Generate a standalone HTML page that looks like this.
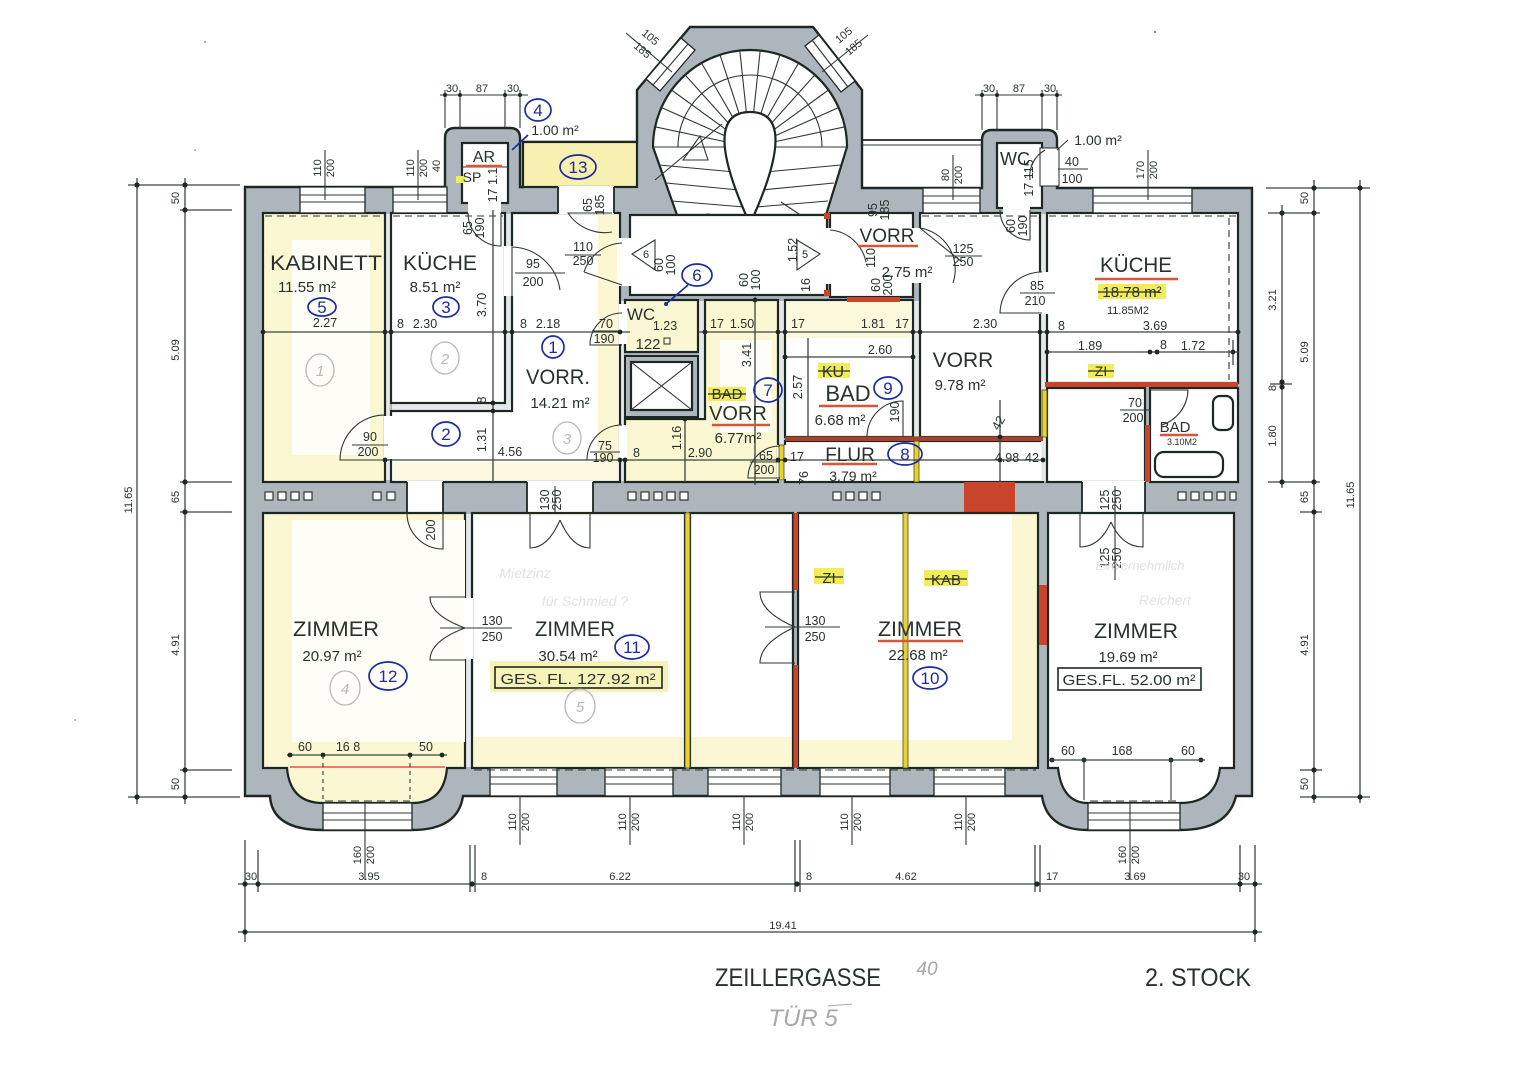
<!DOCTYPE html>
<html><head><meta charset="utf-8"><title>Zeillergasse 2. Stock</title>
<style>
html,body{margin:0;padding:0;background:#fff;width:1528px;height:1080px;overflow:hidden}
svg{display:block}
text{font-family:"Liberation Sans",sans-serif;fill:#28322d}
.s{font-size:11px}
.s2{font-size:12.5px}
.m{font-size:15px}
.r{font-size:21px}
.ln{stroke:#1e2823;stroke-width:1.8;fill:none}
.tn{stroke:#2e3833;stroke-width:1.1;fill:none}
.dm{stroke:#3a4440;stroke-width:1.3;fill:none}
.rm{fill:#fff;stroke:#1e2823;stroke-width:2.2}
.ry{fill:#fbf7d2;stroke:#1e2823;stroke-width:2.2}
.pt{fill:#e4e8ea}
.bl{stroke:#1c2c9e;stroke-width:1.7;fill:none}
.bt{fill:#1c2c9e;font-size:17px}
.gc{stroke:#b8b8b8;stroke-width:1.3;fill:none}
.gt{fill:#b8b8b8;font-size:15px;font-style:italic}
.pn{fill:#e2e2e2;font-style:italic}
.hw{fill:#a8a8a8;font-style:italic}
.win{fill:#fff;stroke:#1e2823;stroke-width:1.3}
.dot{fill:#1e2823}
.red{fill:#c8452c}
.yel{fill:#e7d230;stroke:#4a4a2a;stroke-width:0.8}
.hl{fill:#f3ec5a}
.ul{stroke:#d9553a;stroke-width:2.5;fill:none}
</style></head><body>
<svg width="1528" height="1080" viewBox="0 0 1528 1080" xmlns="http://www.w3.org/2000/svg">
<rect x="0" y="0" width="1528" height="1080" fill="#fff"/>

<!-- building silhouette (walls) -->
<path d="M245,187 L445,187 L445,138 Q445,128 455,128 L510,128 Q520,128 520,138 L520,187 L523,187 L523,142 L637,142 L637,90 L690,27 L813,27 L862,90 L862,188 L982,188 L982,140 Q982,130 992,130 L1047,130 Q1057,130 1057,140 L1057,188 L1252,188 L1252,796 L1236,796 Q1228,830 1180,830 L1088,830 Q1047,830 1042,796 L463,796 Q458,830 412,830 L323,830 Q272,830 270,796 L245,796 Z" fill="#adb6bd" stroke="#1e2823" stroke-width="2.4"/>

<!-- roof line right of stair -->
<line x1="862" y1="140" x2="982" y2="140" class="ln"/>
<line x1="862" y1="145" x2="982" y2="145" class="tn"/>

<!-- staircase inner -->
<path d="M677,215 L653,147 A97,97 0 0 1 847,147 L826,215 Z" class="rm"/>
<g class="tn" stroke-width="1.3">
<line x1="774" y1="147" x2="847" y2="147"/><line x1="773.5" y1="142" x2="844.9" y2="126.8"/><line x1="771.9" y1="137.2" x2="838.7" y2="107.5"/><line x1="769.4" y1="132.9" x2="828.5" y2="90"/><line x1="766.1" y1="129.2" x2="814.9" y2="74.9"/><line x1="762" y1="126.2" x2="798.5" y2="63"/><line x1="757.4" y1="124.2" x2="780" y2="54.8"/><line x1="752.5" y1="123.1" x2="760.2" y2="50.5"/><line x1="747.5" y1="123.1" x2="739.8" y2="50.5"/><line x1="742.6" y1="124.2" x2="720" y2="54.8"/><line x1="738" y1="126.2" x2="701.5" y2="63"/><line x1="733.9" y1="129.2" x2="685.1" y2="74.9"/><line x1="730.6" y1="132.9" x2="671.5" y2="90"/><line x1="728.1" y1="137.2" x2="661.3" y2="107.5"/><line x1="726.5" y1="142" x2="655.1" y2="126.8"/><line x1="726" y1="147" x2="653" y2="147"/>
<line x1="659" y1="165" x2="735" y2="172"/><line x1="666" y1="183" x2="739" y2="190"/><line x1="672" y1="201" x2="744" y2="207"/>
<line x1="841" y1="165" x2="765" y2="172"/><line x1="834" y1="183" x2="761" y2="190"/><line x1="828" y1="201" x2="756" y2="207"/>
<path d="M678,147 A72,72 0 0 1 822,147"/>
</g>
<path d="M750,112 C784,112 784,150 750,224 C716,150 716,112 750,112 Z" class="rm" stroke-width="1.8"/>
<line x1="655" y1="180" x2="722" y2="124" class="tn"/>
<path d="M683,160 L700,136 L708,160 Z" class="tn"/>
<circle cx="708" cy="220" r="6" class="tn"/><line x1="702" y1="220" x2="714" y2="220" class="tn"/><line x1="708" y1="214" x2="708" y2="226" class="tn"/>
<path d="M781,202 L808,220 L781,220" class="tn"/>
<!-- chamfer windows -->
<polygon points="646,79 681,38 695,50 660,91" class="win"/><line x1="653" y1="85" x2="688" y2="44" class="tn"/>
<polygon points="819,35 855,81 841,92 805,46" class="win"/><line x1="812" y1="40" x2="848" y2="87" class="tn"/>
<line x1="626" y1="33" x2="672" y2="72" class="tn"/><text class="s" transform="rotate(40 648 40)" x="648" y="40" text-anchor="middle">105</text><text class="s" transform="rotate(40 640 53)" x="640" y="53" text-anchor="middle">185</text>
<line x1="868" y1="35" x2="822" y2="72" class="tn"/><text class="s" transform="rotate(-40 846 38)" x="846" y="38" text-anchor="middle">105</text><text class="s" transform="rotate(-40 856 50)" x="856" y="50" text-anchor="middle">185</text>

<!-- yellow tints -->
<rect x="523" y="142" width="114" height="45" fill="#f8f0b0" stroke="#1e2823" stroke-width="2.2"/>

<!-- rooms top -->
<rect x="263" y="213" width="122" height="269" class="ry"/>
<rect x="292" y="240" width="78" height="215" fill="#fffef6"/>
<rect x="391" y="213" width="114" height="190" class="rm"/>
<path d="M391,411 L512,411 L512,213 L620,213 L620,482 L391,482 Z" class="rm"/>
<rect x="598" y="215" width="20" height="265" fill="#fbf7d2"/>
<rect x="393" y="462" width="225" height="18" fill="#fcf9e0"/>
<rect x="630" y="215" width="197" height="80" class="rm"/>
<rect x="830" y="213" width="83" height="84" class="rm"/>
<rect x="625" y="300" width="73" height="52" class="ry"/>
<rect x="625" y="356" width="73" height="61" fill="#adb6bd" stroke="#1e2823" stroke-width="2"/>
<rect x="631" y="362" width="61" height="48" class="rm"/>
<line x1="631" y1="362" x2="692" y2="410" class="tn"/><line x1="692" y1="362" x2="631" y2="410" class="tn"/>
<path d="M705,300 L778,300 L778,482 L625,482 L625,419 L705,419 Z" class="ry"/>
<rect x="720" y="340" width="52" height="92" fill="#fffef6"/>
<rect x="785" y="300" width="128" height="137" class="rm"/>
<rect x="787" y="302" width="124" height="36" fill="#fcf8dc"/>
<rect x="785" y="441" width="258" height="41" class="rm"/>
<rect x="920" y="213" width="120" height="224" class="rm"/>
<rect x="1047" y="213" width="191" height="170" class="rm"/>
<rect x="1047" y="388" width="98" height="94" class="rm"/>
<rect x="1150" y="388" width="88" height="94" class="rm"/>
<rect x="462" y="143" width="46" height="60" class="rm"/>
<line x1="462" y1="167" x2="508" y2="167" class="tn"/>
<rect x="997" y="143" width="45" height="65" class="rm"/>

<!-- partitions (light) -->
<rect x="386.2" y="214" width="3.6" height="266" class="pt"/>
<rect x="392" y="404.2" width="119" height="5.6" class="pt"/>
<rect x="506.2" y="214" width="4.6" height="196" class="pt"/>
<rect x="621.2" y="301" width="2.6" height="180" class="pt"/>
<rect x="699.2" y="301" width="4.6" height="117" class="pt"/>
<rect x="779.2" y="301" width="4.6" height="180" class="pt"/>
<rect x="914.2" y="301" width="4.6" height="135" class="pt"/>
<rect x="1041.2" y="214" width="4.6" height="267" class="pt"/>
<!-- door openings -->
<rect x="384" y="416" width="9" height="43" fill="#fff"/>
<rect x="504" y="246" width="10" height="50" fill="#fff"/>
<rect x="617" y="238" width="15" height="48" fill="#fff"/>
<rect x="619" y="304" width="8" height="40" fill="#fff"/>
<rect x="619" y="425" width="8" height="36" fill="#fff"/>
<rect x="777" y="445" width="10" height="34" fill="#fff"/>
<rect x="825" y="228" width="7" height="56" fill="#fff"/>
<rect x="911" y="228" width="11" height="55" fill="#fff"/>
<rect x="1039" y="272" width="10" height="42" fill="#fff"/>
<rect x="1003" y="206" width="27" height="9" fill="#fff"/>
<rect x="468" y="201" width="33" height="14" fill="#fff"/>
<rect x="1040" y="148" width="19" height="38" fill="#fff" stroke="#1e2823" stroke-width="1"/>
<rect x="558" y="186" width="56" height="28" fill="#fff"/>
<line x1="558" y1="187" x2="558" y2="213" class="ln"/><line x1="614" y1="187" x2="614" y2="213" class="ln"/>

<!-- top windows -->
<rect x="300" y="187" width="65" height="26" class="win"/><line x1="300" y1="195" x2="365" y2="195" class="tn"/><line x1="300" y1="202" x2="365" y2="202" class="tn"/>
<rect x="393" y="187" width="54" height="26" class="win"/><line x1="393" y1="195" x2="447" y2="195" class="tn"/><line x1="393" y1="202" x2="447" y2="202" class="tn"/>
<rect x="923" y="188" width="57" height="25" class="win"/><line x1="923" y1="196" x2="980" y2="196" class="tn"/><line x1="923" y1="203" x2="980" y2="203" class="tn"/>
<rect x="1093" y="188" width="99" height="25" class="win"/><line x1="1093" y1="196" x2="1192" y2="196" class="tn"/><line x1="1093" y1="203" x2="1192" y2="203" class="tn"/>
<line x1="265" y1="216" x2="383" y2="216" class="tn" stroke-dasharray="7,5"/>
<line x1="393" y1="216" x2="503" y2="216" class="tn" stroke-dasharray="7,5"/>
<line x1="922" y1="216" x2="1038" y2="216" class="tn" stroke-dasharray="7,5"/>
<line x1="1049" y1="216" x2="1236" y2="216" class="tn" stroke-dasharray="7,5"/>
<line x1="1229" y1="218" x2="1229" y2="380" class="tn" stroke-dasharray="7,5"/>

<!-- corridor wall features -->
<rect x="407" y="481" width="36" height="33" fill="#fff"/><line x1="407" y1="482" x2="407" y2="513" class="ln"/><line x1="443" y1="482" x2="443" y2="513" class="ln"/>
<rect x="527" y="481" width="66" height="33" fill="#fff"/><line x1="527" y1="482" x2="527" y2="513" class="ln"/><line x1="593" y1="482" x2="593" y2="513" class="ln"/>
<rect x="1082" y="481" width="63" height="33" fill="#fff"/><line x1="1082" y1="482" x2="1082" y2="513" class="ln"/><line x1="1145" y1="482" x2="1145" y2="513" class="ln"/>
<rect x="964" y="482" width="51" height="31" class="red"/>
<g fill="#fff" stroke="#1e2823" stroke-width="1.1">
<rect x="265" y="492" width="8" height="8"/><rect x="278" y="492" width="8" height="8"/><rect x="291" y="492" width="8" height="8"/><rect x="304" y="492" width="8" height="8"/><rect x="373" y="492" width="8" height="8"/><rect x="387" y="492" width="8" height="8"/>
<rect x="628" y="492" width="8" height="8"/><rect x="641" y="492" width="8" height="8"/><rect x="654" y="492" width="8" height="8"/><rect x="667" y="492" width="8" height="8"/><rect x="680" y="492" width="8" height="8"/>
<rect x="833" y="492" width="8" height="8"/><rect x="846" y="492" width="8" height="8"/><rect x="859" y="492" width="8" height="8"/><rect x="872" y="492" width="8" height="8"/>
<rect x="1178" y="492" width="8" height="8"/><rect x="1191" y="492" width="8" height="8"/><rect x="1204" y="492" width="8" height="8"/><rect x="1217" y="492" width="8" height="8"/><rect x="1230" y="492" width="6" height="8"/>
</g>

<!-- bottom rooms -->
<path d="M263,513 L465,513 L465,768 L447,768 Q444,803 412,803 L323,803 Q290,803 287,768 L263,768 Z" class="ry"/>
<rect x="292" y="520" width="173" height="222" fill="#fffef6"/>
<rect x="472" y="513" width="213" height="255" class="ry"/>
<rect x="474" y="515" width="209" height="222" fill="#fff"/>
<rect x="690" y="513" width="103" height="255" class="ry"/>
<rect x="692" y="515" width="99" height="222" fill="#fff"/>
<rect x="798" y="513" width="240" height="255" class="ry"/>
<rect x="800" y="515" width="212" height="225" fill="#fff"/>
<path d="M1048,513 L1234,513 L1234,768 L1220,768 Q1216,803 1180,803 L1088,803 Q1062,803 1058,768 L1048,768 Z" class="rm"/>
<rect x="466.2" y="514" width="4.6" height="253" class="pt"/>
<rect x="464" y="598" width="9" height="61" fill="#fff"/>
<rect x="685" y="513" width="5" height="255" class="yel"/>
<rect x="903" y="513" width="5" height="255" class="yel"/>
<rect x="793.5" y="513" width="4.5" height="77" class="red"/>
<rect x="793.5" y="665" width="4.5" height="103" class="red"/>
<rect x="1039" y="585" width="8" height="60" class="red"/>
<line x1="290" y1="767" x2="445" y2="767" stroke="#d33" stroke-width="1.2"/>

<!-- bottom windows -->
<g>
<rect x="490" y="768" width="67" height="28" class="win"/><rect x="605" y="768" width="68" height="28" class="win"/><rect x="708" y="768" width="73" height="28" class="win"/><rect x="820" y="768" width="70" height="28" class="win"/><rect x="934" y="768" width="71" height="28" class="win"/>
<rect x="323" y="803" width="89" height="27" class="win"/><rect x="1088" y="803" width="92" height="27" class="win"/>
</g>
<g class="tn">
<line x1="490" y1="777" x2="557" y2="777"/><line x1="490" y1="784" x2="557" y2="784"/><line x1="605" y1="777" x2="673" y2="777"/><line x1="605" y1="784" x2="673" y2="784"/><line x1="708" y1="777" x2="781" y2="777"/><line x1="708" y1="784" x2="781" y2="784"/><line x1="820" y1="777" x2="890" y2="777"/><line x1="820" y1="784" x2="890" y2="784"/><line x1="934" y1="777" x2="1005" y2="777"/><line x1="934" y1="784" x2="1005" y2="784"/>
<line x1="323" y1="813" x2="412" y2="813"/><line x1="323" y1="820" x2="412" y2="820"/><line x1="1088" y1="813" x2="1180" y2="813"/><line x1="1088" y1="820" x2="1180" y2="820"/>
</g>
<line x1="474" y1="770" x2="1036" y2="770" class="tn" stroke-dasharray="8,5"/>
<line x1="325" y1="801" x2="410" y2="801" class="tn" stroke-dasharray="8,5"/>
<line x1="1090" y1="801" x2="1178" y2="801" class="tn" stroke-dasharray="8,5"/>

<!-- red / yellow highlights top -->
<rect x="785" y="436.5" width="258" height="4.5" fill="#a8412c"/>
<rect x="1045" y="382" width="193" height="5" class="red"/>
<rect x="1145" y="425" width="5" height="57" class="red"/>
<rect x="847" y="297" width="53" height="5" class="red"/>
<rect x="824" y="213" width="6" height="6" class="red"/><rect x="824" y="290" width="6" height="6" class="red"/>
<rect x="1042" y="390" width="5" height="47" class="yel"/>
<rect x="779" y="445" width="5" height="35" class="yel"/>
<rect x="914" y="441" width="5" height="41" class="yel"/>
<rect x="456" y="176" width="9" height="7" class="hl"/>

<!-- fixtures -->
<rect x="1155" y="452" width="68" height="25" rx="9" class="rm" stroke-width="1.3"/>
<rect x="1213" y="396" width="20" height="34" rx="7" class="rm" stroke-width="1.3"/>

<!-- doors -->
<g class="tn" stroke-width="1.2">
<path d="M385,460 L340,460 A45,45 0 0 1 385,415"/>
<path d="M512,297 L512,247 A50,50 0 0 1 560,290"/>
<path d="M622,285 L584,272 M622,243 A42,42 0 0 0 584,272"/>
<path d="M612,213 L568,213 A44,44 0 0 0 612,232"/>
<path d="M468,213 A33,33 0 0 0 501,246 L501,213"/>
<path d="M622,345 L590,345 A32,32 0 0 1 622,313"/>
<path d="M622,460 L587,460 A35,35 0 0 1 622,425"/>
<path d="M780,478 L748,478 A32,32 0 0 1 780,446"/>
<path d="M867,437 A36,36 0 0 1 903,401 L903,437"/>
<path d="M920,228 L962,262 M920,228 A42,42 0 0 1 953,283"/>
<path d="M830,230 A40,40 0 0 1 866,262"/>
<path d="M1042,272 A42,42 0 0 0 1000,313 L1042,313"/>
<path d="M1000,210 A30,30 0 0 0 1030,240 L1030,210"/>
<path d="M1150,390 L1188,390 A38,38 0 0 1 1162,425"/>
<path d="M1045,150 A30,30 0 0 0 1030,180"/>
<path d="M407,513 A36,36 0 0 0 443,549 L443,513"/>
<path d="M530,513 L530,548 Q548,548 560,520 M590,513 L590,548 Q572,548 560,520"/>
<path d="M465,597 L430,597 Q430,615 465,628 M465,660 L430,660 Q430,641 465,628"/>
<path d="M795,592 L760,592 Q760,612 795,627 M795,663 L760,663 Q760,643 795,627"/>
<path d="M1080,513 L1080,547 Q1100,547 1111,522 M1143,513 L1143,547 Q1122,547 1111,522"/>
</g>
<!-- landing triangles -->
<path d="M632,254 L655,240 L655,270 Z" class="tn"/><text class="s" x="646" y="258" text-anchor="middle">6</text>
<path d="M820,254 L797,240 L797,270 Z" class="tn"/><text class="s" x="805" y="258" text-anchor="middle">5</text>

<!-- interior dimension lines -->
<g class="dm">
<line x1="263" y1="332" x2="630" y2="332"/><line x1="698" y1="332" x2="1240" y2="332"/>
<line x1="785" y1="357" x2="913" y2="357"/><line x1="1047" y1="352" x2="1238" y2="352"/>
<line x1="385" y1="460" x2="1043" y2="460"/>
<line x1="493" y1="210" x2="493" y2="482"/>
<line x1="685" y1="417" x2="685" y2="482"/>
<line x1="755" y1="297" x2="755" y2="485"/>
<line x1="808" y1="338" x2="808" y2="437"/>
<line x1="1000" y1="400" x2="1000" y2="482"/>
<line x1="1233" y1="340" x2="1233" y2="365"/>
</g>
<g class="dot">
<circle cx="263" cy="332" r="2.4"/><circle cx="385" cy="332" r="2.4"/><circle cx="391" cy="332" r="2.4"/><circle cx="505" cy="332" r="2.4"/><circle cx="512" cy="332" r="2.4"/><circle cx="620" cy="332" r="2.4"/><circle cx="705" cy="332" r="2.4"/><circle cx="778" cy="332" r="2.4"/><circle cx="785" cy="332" r="2.4"/><circle cx="913" cy="332" r="2.4"/><circle cx="920" cy="332" r="2.4"/><circle cx="1040" cy="332" r="2.4"/><circle cx="1047" cy="332" r="2.4"/><circle cx="1238" cy="332" r="2.4"/>
<circle cx="785" cy="357" r="2.4"/><circle cx="913" cy="357" r="2.4"/><circle cx="1047" cy="352" r="2.4"/><circle cx="1150" cy="352" r="2.4"/><circle cx="1157" cy="352" r="2.4"/><circle cx="1233" cy="352" r="2.4"/>
<circle cx="385" cy="460" r="2.4"/><circle cx="620" cy="460" r="2.4"/><circle cx="625" cy="460" r="2.4"/><circle cx="778" cy="460" r="2.4"/><circle cx="785" cy="460" r="2.4"/><circle cx="1000" cy="460" r="2.4"/><circle cx="1043" cy="460" r="2.4"/>
<circle cx="493" cy="403" r="2.4"/><circle cx="493" cy="411" r="2.4"/><circle cx="755" cy="300" r="2.4"/><circle cx="685" cy="419" r="2.4"/><circle cx="1000" cy="437" r="2.4"/>
</g>

<!-- bay dims -->
<line x1="287" y1="755" x2="447" y2="755" class="dm"/>
<g class="dot"><circle cx="290" cy="755" r="2.4"/><circle cx="323" cy="755" r="2.4"/><circle cx="410" cy="755" r="2.4"/><circle cx="442" cy="755" r="2.4"/>
<circle cx="1052" cy="760" r="2.4"/><circle cx="1084" cy="760" r="2.4"/><circle cx="1171" cy="760" r="2.4"/><circle cx="1201" cy="760" r="2.4"/></g>
<line x1="1049" y1="760" x2="1205" y2="760" class="dm"/>
<line x1="323" y1="755" x2="323" y2="800" class="tn" stroke-dasharray="4,4"/><line x1="410" y1="755" x2="410" y2="800" class="tn" stroke-dasharray="4,4"/>
<line x1="1084" y1="760" x2="1084" y2="800" class="tn"/><line x1="1171" y1="760" x2="1171" y2="800" class="tn"/>

<!-- outer dimension lines left -->
<g class="dm">
<line x1="137" y1="178" x2="137" y2="804"/><line x1="185" y1="178" x2="185" y2="804"/>
<line x1="128" y1="185" x2="240" y2="185"/><line x1="180" y1="210" x2="232" y2="210"/><line x1="180" y1="482" x2="232" y2="482"/><line x1="180" y1="512" x2="232" y2="512"/><line x1="180" y1="770" x2="232" y2="770"/><line x1="128" y1="797" x2="240" y2="797"/>
</g>
<g class="dot"><circle cx="137" cy="185" r="2.6"/><circle cx="137" cy="797" r="2.6"/><circle cx="185" cy="185" r="2.6"/><circle cx="185" cy="210" r="2.6"/><circle cx="185" cy="482" r="2.6"/><circle cx="185" cy="512" r="2.6"/><circle cx="185" cy="770" r="2.6"/><circle cx="185" cy="797" r="2.6"/></g>
<g class="s">
<text transform="rotate(-90 179 198)" x="179" y="198" text-anchor="middle">50</text>
<text transform="rotate(-90 179 350)" x="179" y="350" text-anchor="middle">5.09</text>
<text transform="rotate(-90 179 497)" x="179" y="497" text-anchor="middle">65</text>
<text transform="rotate(-90 179 645)" x="179" y="645" text-anchor="middle">4.91</text>
<text transform="rotate(-90 179 784)" x="179" y="784" text-anchor="middle">50</text>
<text transform="rotate(-90 132 500)" x="132" y="500" text-anchor="middle">11.65</text>
</g>

<!-- outer dims right -->
<g class="dm">
<line x1="1282" y1="205" x2="1282" y2="488"/><line x1="1314" y1="180" x2="1314" y2="803"/><line x1="1360" y1="180" x2="1360" y2="803"/>
<line x1="1266" y1="188" x2="1370" y2="188"/><line x1="1268" y1="213" x2="1320" y2="213"/><line x1="1270" y1="384" x2="1292" y2="384"/><line x1="1268" y1="482" x2="1320" y2="482"/><line x1="1300" y1="512" x2="1322" y2="512"/><line x1="1300" y1="770" x2="1322" y2="770"/><line x1="1300" y1="797" x2="1370" y2="797"/>
</g>
<g class="dot"><circle cx="1282" cy="213" r="2.6"/><circle cx="1282" cy="382" r="2.6"/><circle cx="1282" cy="387" r="2.6"/><circle cx="1282" cy="482" r="2.6"/>
<circle cx="1314" cy="188" r="2.6"/><circle cx="1314" cy="213" r="2.6"/><circle cx="1314" cy="482" r="2.6"/><circle cx="1314" cy="512" r="2.6"/><circle cx="1314" cy="770" r="2.6"/><circle cx="1314" cy="797" r="2.6"/><circle cx="1360" cy="188" r="2.6"/><circle cx="1360" cy="797" r="2.6"/></g>
<g class="s">
<text transform="rotate(-90 1276 300)" x="1276" y="300" text-anchor="middle">3.21</text>
<text transform="rotate(-90 1276 388)" x="1276" y="388" text-anchor="middle">8</text>
<text transform="rotate(-90 1276 436)" x="1276" y="436" text-anchor="middle">1.80</text>
<text transform="rotate(-90 1308 198)" x="1308" y="198" text-anchor="middle">50</text>
<text transform="rotate(-90 1308 352)" x="1308" y="352" text-anchor="middle">5.09</text>
<text transform="rotate(-90 1308 497)" x="1308" y="497" text-anchor="middle">65</text>
<text transform="rotate(-90 1308 645)" x="1308" y="645" text-anchor="middle">4.91</text>
<text transform="rotate(-90 1308 784)" x="1308" y="784" text-anchor="middle">50</text>
<text transform="rotate(-90 1354 495)" x="1354" y="495" text-anchor="middle">11.65</text>
</g>

<!-- bottom dims -->
<g class="dm">
<line x1="238" y1="884" x2="1262" y2="884"/><line x1="238" y1="932" x2="1262" y2="932"/>
<line x1="245" y1="840" x2="245" y2="942"/><line x1="258" y1="850" x2="258" y2="892"/><line x1="470" y1="845" x2="470" y2="892"/><line x1="475" y1="845" x2="475" y2="892"/>
<line x1="795" y1="840" x2="795" y2="892"/><line x1="800" y1="840" x2="800" y2="892"/><line x1="1035" y1="845" x2="1035" y2="892"/><line x1="1040" y1="845" x2="1040" y2="892"/><line x1="1240" y1="845" x2="1240" y2="892"/><line x1="1255" y1="845" x2="1255" y2="942"/>
</g>
<g class="dot"><circle cx="245" cy="884" r="2.6"/><circle cx="258" cy="884" r="2.6"/><circle cx="472" cy="884" r="2.6"/><circle cx="797" cy="884" r="2.6"/><circle cx="1037" cy="884" r="2.6"/><circle cx="1240" cy="884" r="2.6"/><circle cx="1255" cy="884" r="2.6"/><circle cx="245" cy="932" r="2.6"/><circle cx="1255" cy="932" r="2.6"/></g>
<g class="s">
<text x="251" y="880" text-anchor="middle">30</text><text x="369" y="880" text-anchor="middle">3.95</text><text x="481" y="880">8</text><text x="620" y="880" text-anchor="middle">6.22</text><text x="806" y="880">8</text><text x="906" y="880" text-anchor="middle">4.62</text><text x="1046" y="880">17</text><text x="1135" y="880" text-anchor="middle">3.69</text><text x="1244" y="880" text-anchor="middle">30</text>
<text x="783" y="929" text-anchor="middle">19.41</text>
</g>

<!-- window labels -->
<g class="tn">
<line x1="325" y1="150" x2="325" y2="200"/><line x1="418" y1="150" x2="418" y2="200"/><line x1="953" y1="155" x2="953" y2="200"/><line x1="1148" y1="150" x2="1148" y2="200"/>
<line x1="520" y1="796" x2="520" y2="845"/><line x1="630" y1="796" x2="630" y2="845"/><line x1="744" y1="796" x2="744" y2="845"/><line x1="852" y1="796" x2="852" y2="845"/><line x1="966" y1="796" x2="966" y2="845"/>
<line x1="365" y1="803" x2="365" y2="880"/><line x1="1130" y1="803" x2="1130" y2="880"/>
</g>
<g class="s">
<text transform="rotate(-90 321 168)" x="321" y="168" text-anchor="middle">110</text><text transform="rotate(-90 334 168)" x="334" y="168" text-anchor="middle">200</text>
<text transform="rotate(-90 414 168)" x="414" y="168" text-anchor="middle">110</text><text transform="rotate(-90 427 168)" x="427" y="168" text-anchor="middle">200</text>
<text transform="rotate(-90 440 166)" x="440" y="166" text-anchor="middle">40</text>
<text transform="rotate(-90 949 175)" x="949" y="175" text-anchor="middle">80</text><text transform="rotate(-90 962 175)" x="962" y="175" text-anchor="middle">200</text>
<text transform="rotate(-90 1144 170)" x="1144" y="170" text-anchor="middle">170</text><text transform="rotate(-90 1157 170)" x="1157" y="170" text-anchor="middle">200</text>
<text transform="rotate(-90 516 822)" x="516" y="822" text-anchor="middle">110</text><text transform="rotate(-90 529 822)" x="529" y="822" text-anchor="middle">200</text>
<text transform="rotate(-90 626 822)" x="626" y="822" text-anchor="middle">110</text><text transform="rotate(-90 639 822)" x="639" y="822" text-anchor="middle">200</text>
<text transform="rotate(-90 740 822)" x="740" y="822" text-anchor="middle">110</text><text transform="rotate(-90 753 822)" x="753" y="822" text-anchor="middle">200</text>
<text transform="rotate(-90 848 822)" x="848" y="822" text-anchor="middle">110</text><text transform="rotate(-90 861 822)" x="861" y="822" text-anchor="middle">200</text>
<text transform="rotate(-90 962 822)" x="962" y="822" text-anchor="middle">110</text><text transform="rotate(-90 975 822)" x="975" y="822" text-anchor="middle">200</text>
<text transform="rotate(-90 361 855)" x="361" y="855" text-anchor="middle">160</text><text transform="rotate(-90 374 855)" x="374" y="855" text-anchor="middle">200</text>
<text transform="rotate(-90 1126 855)" x="1126" y="855" text-anchor="middle">160</text><text transform="rotate(-90 1139 855)" x="1139" y="855" text-anchor="middle">200</text>
</g>

<!-- top small dims -->
<g class="tn"><line x1="440" y1="95" x2="528" y2="95"/><line x1="445" y1="90" x2="445" y2="128"/><line x1="460" y1="90" x2="460" y2="128"/><line x1="505" y1="90" x2="505" y2="128"/><line x1="520" y1="90" x2="520" y2="128"/>
<line x1="975" y1="95" x2="1062" y2="95"/><line x1="982" y1="90" x2="982" y2="130"/><line x1="997" y1="90" x2="997" y2="130"/><line x1="1042" y1="90" x2="1042" y2="130"/><line x1="1057" y1="90" x2="1057" y2="130"/></g>
<g class="dot"><circle cx="445" cy="95" r="2"/><circle cx="460" cy="95" r="2"/><circle cx="505" cy="95" r="2"/><circle cx="520" cy="95" r="2"/><circle cx="982" cy="95" r="2"/><circle cx="997" cy="95" r="2"/><circle cx="1042" cy="95" r="2"/><circle cx="1057" cy="95" r="2"/></g>
<g class="s"><text x="452" y="92" text-anchor="middle">30</text><text x="482" y="92" text-anchor="middle">87</text><text x="513" y="92" text-anchor="middle">30</text>
<text x="989" y="92" text-anchor="middle">30</text><text x="1019" y="92" text-anchor="middle">87</text><text x="1050" y="92" text-anchor="middle">30</text></g>

<!-- highlight backgrounds -->
<rect x="708" y="387" width="38" height="14" class="hl"/>
<rect x="818" y="363" width="32" height="15" class="hl"/>
<rect x="1098" y="284" width="68" height="15" class="hl"/>
<rect x="1088" y="364" width="26" height="14" class="hl"/>
<rect x="814" y="568" width="30" height="16" class="hl"/>
<rect x="924" y="570" width="44" height="16" class="hl"/>
<rect x="490" y="661" width="178" height="31" fill="#f7f2b8"/>

<!-- text labels top-left -->
<text x="326" y="270" class="r" text-anchor="middle" textLength="112" lengthAdjust="spacingAndGlyphs">KABINETT</text>
<text x="307" y="292" class="m" text-anchor="middle">11.55 m²</text>
<text x="440" y="270" class="r" text-anchor="middle" textLength="74" lengthAdjust="spacingAndGlyphs">KÜCHE</text>
<text x="435" y="292" class="m" text-anchor="middle">8.51 m²</text>
<g class="s2">
<text x="325" y="327" text-anchor="middle">2.27</text><text x="397" y="328">8</text><text x="425" y="328" text-anchor="middle">2.30</text><text x="520" y="328">8</text><text x="548" y="328" text-anchor="middle">2.18</text>
<text transform="rotate(-90 486 305)" x="486" y="305" text-anchor="middle">3.70</text>
<text transform="rotate(-90 486 400)" x="486" y="400" text-anchor="middle">8</text>
<text transform="rotate(-90 486 440)" x="486" y="440" text-anchor="middle">1.31</text>
<text x="510" y="456" text-anchor="middle">4.56</text>
<text x="533" y="268" text-anchor="middle">95</text><text x="533" y="286" text-anchor="middle">200</text>
<text x="370" y="441" text-anchor="middle">90</text><text x="368" y="456" text-anchor="middle">200</text>
<text x="583" y="251" text-anchor="middle">110</text><text x="583" y="265" text-anchor="middle">250</text>
<text x="606" y="328" text-anchor="middle">70</text><text x="604" y="343" text-anchor="middle">190</text>
<text x="605" y="450" text-anchor="middle">75</text><text x="603" y="462" text-anchor="middle">190</text>
<text x="633" y="457">8</text><text x="700" y="457" text-anchor="middle">2.90</text>
<text transform="rotate(-90 681 438)" x="681" y="438" text-anchor="middle">1.16</text>
<text x="665" y="330" text-anchor="middle">1.23</text>
<text x="717" y="328" text-anchor="middle">17</text><text x="742" y="328" text-anchor="middle">1.50</text>
<text x="798" y="328" text-anchor="middle">17</text><text x="873" y="328" text-anchor="middle">1.81</text><text x="902" y="328" text-anchor="middle">17</text><text x="985" y="328" text-anchor="middle">2.30</text>
<text x="880" y="354" text-anchor="middle">2.60</text>
<text transform="rotate(-90 751 355)" x="751" y="355" text-anchor="middle">3.41</text>
<text transform="rotate(-90 802 387)" x="802" y="387" text-anchor="middle">2.57</text>
<text x="766" y="460" text-anchor="middle">65</text><text x="764" y="474" text-anchor="middle">200</text>
<text x="797" y="461" text-anchor="middle">17</text>
<text transform="rotate(-90 808 478)" x="808" y="478" text-anchor="middle">76</text>
<text x="1007" y="462" text-anchor="middle">4.98</text><text x="1032" y="462" text-anchor="middle">42</text>
<text transform="rotate(-60 1002 425)" x="1002" y="425" text-anchor="middle">42</text>
<text transform="rotate(-90 899 412)" x="899" y="412" text-anchor="middle">190</text>
<text x="963" y="253" text-anchor="middle">125</text><text x="963" y="266" text-anchor="middle">250</text>
<text x="1037" y="290" text-anchor="middle">85</text><text x="1035" y="305" text-anchor="middle">210</text>
<text transform="rotate(-90 797 250)" x="797" y="250" text-anchor="middle">1.52</text>
<text transform="rotate(-90 810 285)" x="810" y="285" text-anchor="middle">16</text>
<text transform="rotate(-90 663 265)" x="663" y="265" text-anchor="middle">60</text><text transform="rotate(-90 675 265)" x="675" y="265" text-anchor="middle">100</text>
<text transform="rotate(-90 748 280)" x="748" y="280" text-anchor="middle">60</text><text transform="rotate(-90 760 280)" x="760" y="280" text-anchor="middle">100</text>
<text x="1058" y="330">8</text><text x="1155" y="330" text-anchor="middle">3.69</text>
<text x="1090" y="350" text-anchor="middle">1.89</text><text x="1160" y="349">8</text><text x="1193" y="350" text-anchor="middle">1.72</text>
<text x="1135" y="407" text-anchor="middle">70</text><text x="1133" y="422" text-anchor="middle">200</text>
<text x="1072" y="166" text-anchor="middle">40</text><text x="1072" y="183" text-anchor="middle">100</text>
<text transform="rotate(-90 1033 178)" x="1033" y="178" text-anchor="middle">17 115</text>
<text transform="rotate(-90 1015 226)" x="1015" y="226" text-anchor="middle">60</text><text transform="rotate(-90 1027 226)" x="1027" y="226" text-anchor="middle">190</text>
<text transform="rotate(-90 497 185)" x="497" y="185" text-anchor="middle">17 1.1</text>
<text transform="rotate(-90 472 228)" x="472" y="228" text-anchor="middle">65</text><text transform="rotate(-90 484 228)" x="484" y="228" text-anchor="middle">190</text>
<text transform="rotate(-90 592 205)" x="592" y="205" text-anchor="middle">65</text><text transform="rotate(-90 604 205)" x="604" y="205" text-anchor="middle">185</text>
<text transform="rotate(-90 875 258)" x="875" y="258" text-anchor="middle">110</text>
<text transform="rotate(-90 880 285)" x="880" y="285" text-anchor="middle">60</text><text transform="rotate(-90 892 285)" x="892" y="285" text-anchor="middle">200</text>
<text transform="rotate(-90 877 210)" x="877" y="210" text-anchor="middle">95</text><text transform="rotate(-90 889 210)" x="889" y="210" text-anchor="middle">185</text>
</g>
<g class="tn"><line x1="515" y1="273" x2="565" y2="273"/><line x1="352" y1="445" x2="388" y2="445"/><line x1="565" y1="255" x2="601" y2="255"/><line x1="592" y1="331" x2="620" y2="331"/><line x1="590" y1="452" x2="620" y2="452"/><line x1="750" y1="462" x2="780" y2="462"/><line x1="945" y1="256" x2="982" y2="256"/><line x1="1020" y1="293" x2="1055" y2="293"/><line x1="1120" y1="410" x2="1150" y2="410"/><line x1="1058" y1="169" x2="1088" y2="169"/></g>

<text x="558" y="384" class="r" text-anchor="middle" textLength="64" lengthAdjust="spacingAndGlyphs">VORR.</text>
<text x="560" y="408" class="m" text-anchor="middle">14.21 m²</text>
<text x="641" y="320" font-size="17" text-anchor="middle">WC</text>
<text x="648" y="349" font-size="15" text-anchor="middle">122</text><rect x="664" y="338" width="6" height="6" fill="none" stroke="#28322d" stroke-width="1"/>
<text x="727" y="399" font-size="15" text-anchor="middle">BAD</text><line x1="708" y1="394" x2="746" y2="394" stroke="#28322d" stroke-width="1.2"/>
<text x="738" y="420" font-size="20" text-anchor="middle">VORR</text><line x1="712" y1="425" x2="770" y2="425" class="ul"/>
<text x="738" y="443" class="m" text-anchor="middle">6.77m²</text>
<text x="833" y="377" font-size="16" text-anchor="middle">KU</text><line x1="818" y1="371" x2="850" y2="371" stroke="#28322d" stroke-width="1.2"/>
<text x="848" y="401" font-size="22" text-anchor="middle">BAD</text><line x1="819" y1="406" x2="878" y2="406" class="ul"/>
<text x="840" y="425" class="m" text-anchor="middle">6.68 m²</text>
<text x="850" y="461" font-size="19" text-anchor="middle">FLUR</text><line x1="822" y1="464" x2="877" y2="464" class="ul"/>
<text x="853" y="481" font-size="14" text-anchor="middle">3.79 m²</text>
<text x="963" y="367" class="r" text-anchor="middle">VORR</text>
<text x="960" y="390" class="m" text-anchor="middle">9.78 m²</text>
<text x="887" y="242" font-size="19" text-anchor="middle">VORR</text><line x1="858" y1="246" x2="918" y2="246" class="ul"/>
<text x="907" y="277" class="m" text-anchor="middle">2.75 m²</text>
<text x="1015" y="165" font-size="18" text-anchor="middle">WC</text>
<text x="1098" y="145" font-size="14" text-anchor="middle">1.00 m²</text>
<path d="M1057,150 L1068,140" class="tn"/>
<text x="1136" y="272" class="r" text-anchor="middle" textLength="72" lengthAdjust="spacingAndGlyphs">KÜCHE</text><line x1="1095" y1="279" x2="1178" y2="279" class="ul"/>
<text x="1132" y="297" class="m" text-anchor="middle">18.78 m²</text><line x1="1098" y1="292" x2="1160" y2="292" stroke="#28322d" stroke-width="1.2"/>
<text x="1128" y="314" font-size="11" text-anchor="middle">11.85M2</text>
<text x="1101" y="376" font-size="14" text-anchor="middle">ZI</text><line x1="1088" y1="371" x2="1114" y2="371" stroke="#28322d" stroke-width="1.2"/>
<text x="1175" y="432" font-size="15" text-anchor="middle">BAD</text><line x1="1160" y1="435" x2="1198" y2="435" class="ul"/>
<text x="1182" y="445" font-size="9" text-anchor="middle">3.10M2</text>
<text x="484" y="162" font-size="16" text-anchor="middle">AR</text><line x1="466" y1="166" x2="502" y2="166" class="ul"/>
<text x="472" y="182" font-size="14" text-anchor="middle">SP</text>
<text x="555" y="135" font-size="14" text-anchor="middle">1.00 m²</text>
<path d="M528,135 L512,150" class="bl" stroke-width="1.2"/>

<!-- bottom room texts -->
<text x="336" y="636" class="r" text-anchor="middle" textLength="86" lengthAdjust="spacingAndGlyphs">ZIMMER</text>
<text x="332" y="661" class="m" text-anchor="middle">20.97 m²</text>
<text x="575" y="636" class="r" text-anchor="middle" textLength="80" lengthAdjust="spacingAndGlyphs">ZIMMER</text>
<text x="568" y="661" class="m" text-anchor="middle">30.54 m²</text>
<rect x="495" y="667" width="167" height="21" fill="none" stroke="#1e2823" stroke-width="1.6"/>
<text x="578" y="684" class="m" text-anchor="middle" textLength="155" lengthAdjust="spacingAndGlyphs">GES. FL. 127.92 m²</text>
<g class="s2"><text x="492" y="625" text-anchor="middle">130</text><text x="492" y="641" text-anchor="middle">250</text>
<text x="815" y="625" text-anchor="middle">130</text><text x="815" y="641" text-anchor="middle">250</text>
<text transform="rotate(-90 549 500)" x="549" y="500" text-anchor="middle">130</text><text transform="rotate(-90 561 500)" x="561" y="500" text-anchor="middle">250</text>
<text transform="rotate(-90 435 530)" x="435" y="530" text-anchor="middle">200</text>
<text transform="rotate(-90 1109 500)" x="1109" y="500" text-anchor="middle">125</text><text transform="rotate(-90 1121 500)" x="1121" y="500" text-anchor="middle">250</text>
<text transform="rotate(-90 1109 558)" x="1109" y="558" text-anchor="middle">125</text><text transform="rotate(-90 1121 558)" x="1121" y="558" text-anchor="middle">250</text>
<text x="305" y="751" text-anchor="middle">60</text><text x="348" y="751" text-anchor="middle">16 8</text><text x="426" y="751" text-anchor="middle">50</text>
<text x="1068" y="755" text-anchor="middle">60</text><text x="1122" y="755" text-anchor="middle">168</text><text x="1188" y="755" text-anchor="middle">60</text>
</g>
<g class="tn"><line x1="440" y1="628" x2="512" y2="628"/><line x1="765" y1="627" x2="840" y2="627"/><line x1="555" y1="486" x2="555" y2="512"/><line x1="1115" y1="486" x2="1115" y2="580"/></g>
<text x="829" y="583" font-size="15" text-anchor="middle">ZI</text><line x1="815" y1="577" x2="843" y2="577" stroke="#28322d" stroke-width="1.2"/>
<text x="946" y="585" font-size="15" text-anchor="middle">KAB</text><line x1="925" y1="579" x2="967" y2="579" stroke="#28322d" stroke-width="1.2"/>
<text x="920" y="636" class="r" text-anchor="middle" textLength="84" lengthAdjust="spacingAndGlyphs">ZIMMER</text><line x1="878" y1="641" x2="963" y2="641" class="ul"/>
<text x="918" y="660" class="m" text-anchor="middle">22.68 m²</text>
<text x="1136" y="638" class="r" text-anchor="middle" textLength="84" lengthAdjust="spacingAndGlyphs">ZIMMER</text>
<text x="1128" y="662" class="m" text-anchor="middle">19.69 m²</text>
<rect x="1058" y="668" width="143" height="22" fill="none" stroke="#1e2823" stroke-width="1.6"/>
<text x="1129" y="685" class="m" text-anchor="middle" textLength="133" lengthAdjust="spacingAndGlyphs">GES.FL. 52.00 m²</text>

<!-- pencil notes (very faint) -->
<text x="525" y="578" class="pn" font-size="14" text-anchor="middle">Mietzinz</text>
<text x="585" y="606" class="pn" font-size="14" text-anchor="middle">für Schmied ?</text>
<text x="1140" y="570" class="pn" font-size="13" text-anchor="middle">Einvernehmlich</text>
<text x="1165" y="605" class="pn" font-size="14" text-anchor="middle">Reichert</text>

<!-- blue circled numbers -->
<g>
<ellipse cx="538" cy="110" rx="13" ry="11" class="bl"/><text x="538" y="116" class="bt" text-anchor="middle">4</text>
<ellipse cx="578" cy="167" rx="18" ry="12" class="bl"/><text x="578" y="173" class="bt" text-anchor="middle">13</text>
<ellipse cx="322" cy="307" rx="14" ry="9" class="bl"/><text x="322" y="313" class="bt" text-anchor="middle">5</text>
<ellipse cx="446" cy="307" rx="13" ry="10" class="bl"/><text x="446" y="313" class="bt" text-anchor="middle">3</text>
<ellipse cx="553" cy="347" rx="11" ry="11" class="bl"/><text x="553" y="353" class="bt" text-anchor="middle">1</text>
<ellipse cx="446" cy="434" rx="14" ry="12" class="bl"/><text x="446" y="440" class="bt" text-anchor="middle">2</text>
<ellipse cx="697" cy="275" rx="15" ry="11" class="bl"/><text x="697" y="281" class="bt" text-anchor="middle">6</text>
<line x1="688" y1="285" x2="666" y2="304" class="bl" stroke-width="1.2"/><circle cx="666" cy="304" r="2" fill="#1c2c9e"/>
<ellipse cx="768" cy="390" rx="14" ry="12" class="bl"/><text x="768" y="396" class="bt" text-anchor="middle">7</text>
<ellipse cx="888" cy="388" rx="14" ry="11" class="bl"/><text x="888" y="394" class="bt" text-anchor="middle">9</text>
<ellipse cx="905" cy="454" rx="17" ry="11" class="bl"/><text x="905" y="460" class="bt" text-anchor="middle">8</text>
<ellipse cx="632" cy="647" rx="17" ry="12" class="bl"/><text x="632" y="653" class="bt" text-anchor="middle">11</text>
<ellipse cx="388" cy="676" rx="19" ry="14" class="bl"/><text x="388" y="682" class="bt" text-anchor="middle">12</text>
<ellipse cx="930" cy="678" rx="17" ry="11" class="bl"/><text x="930" y="684" class="bt" text-anchor="middle">10</text>
</g>
<!-- pencil circled numbers -->
<ellipse cx="320" cy="370" rx="14" ry="16" class="gc"/><text x="320" y="376" class="gt" text-anchor="middle">1</text>
<ellipse cx="445" cy="358" rx="14" ry="16" class="gc"/><text x="445" y="364" class="gt" text-anchor="middle">2</text>
<ellipse cx="567" cy="438" rx="14" ry="16" class="gc"/><text x="567" y="444" class="gt" text-anchor="middle">3</text>
<ellipse cx="345" cy="688" rx="15" ry="17" class="gc"/><text x="345" y="694" class="gt" text-anchor="middle">4</text>
<ellipse cx="580" cy="706" rx="15" ry="17" class="gc"/><text x="580" y="712" class="gt" text-anchor="middle">5</text>

<!-- title -->
<text x="798" y="986" font-size="25" text-anchor="middle" textLength="166" lengthAdjust="spacingAndGlyphs">ZEILLERGASSE</text>
<text x="1198" y="986" font-size="25" text-anchor="middle" textLength="106" lengthAdjust="spacingAndGlyphs">2. STOCK</text>
<text x="927" y="975" class="hw" font-size="19" text-anchor="middle">40</text>
<text x="803" y="1026" class="hw" font-size="24" text-anchor="middle">TÜR 5</text>
<line x1="828" y1="1006" x2="852" y2="1004" stroke="#aaa" stroke-width="1"/>

<!-- scan marks -->
<circle cx="205" cy="42" r="1" fill="#999"/><circle cx="1155" cy="32" r="1.2" fill="#888"/><circle cx="75" cy="720" r="1" fill="#aaa"/><circle cx="195" cy="150" r="1" fill="#aaa"/>
</svg>
</body></html>
